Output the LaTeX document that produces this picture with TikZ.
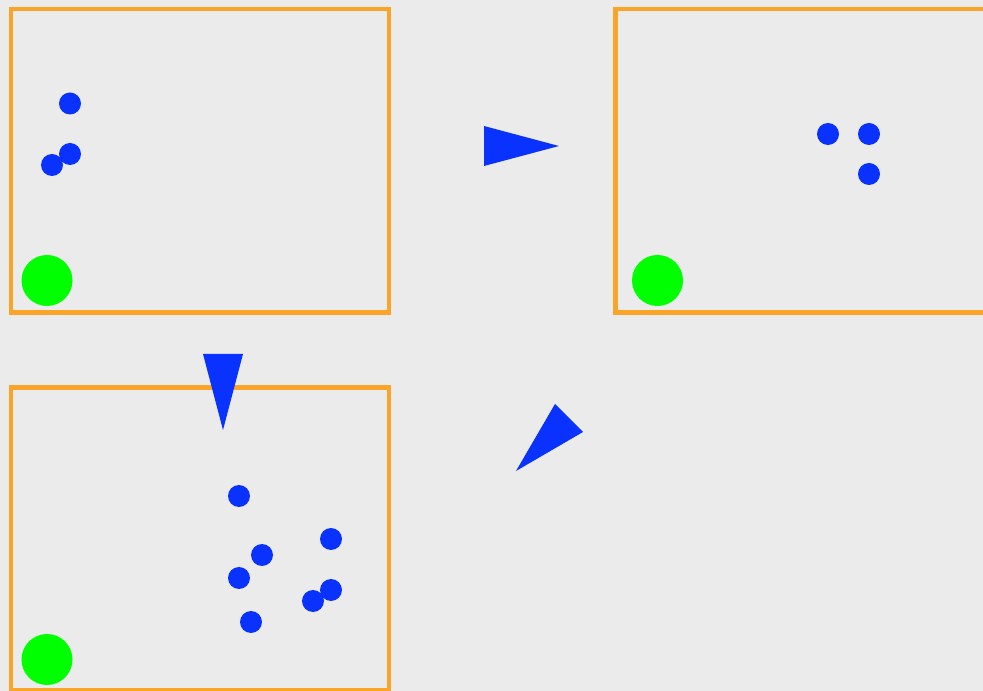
\documentclass[tikz,border=0pt]{standalone}
\usepackage{xcolor}
\usepackage{tikz}
\definecolor{bgGray}{RGB}{235,235,235}
\definecolor{frameOrange}{RGB}{250,165,40}
\definecolor{dotBlue}{RGB}{10,50,255}
\definecolor{goalGreen}{RGB}{0,255,0}
\tikzset{
    panel/.style={draw=frameOrange, line width=3.2pt},
    dot/.style={fill=dotBlue},
    goal/.style={fill=goalGreen},
    pointer/.style={fill=dotBlue}
}

\begin{document}
\begin{tikzpicture}[x=0.75pt, y=-0.75pt]
% Background
\fill[bgGray] (0,0) rectangle (983,691);
\useasboundingbox (0,0) rectangle (983,691);
\clip (0,0) rectangle (983,691);

% Panels
\draw[panel] (11,9) rectangle (389,312.5);
\draw[panel] (615.5,9) rectangle (993.5,312.5);
\draw[panel] (11,387.5) rectangle (389,690.5);

% Goals
\fill[goal] (47,280.5) circle (25.5);
\fill[goal] (657.5,280.5) circle (25.5);
\fill[goal] (47,659.5) circle (25.5);

% Dots
\foreach \px/\py in {70/103.5, 70/154, 52/165,
                     828/134, 869/134, 869/174,
                     239/496, 262/555, 239/578, 331/539, 331/590, 313/601, 251/622}
    \fill[dot] (\px,\py) circle (11);

% Pointers
\fill[pointer] (484,126) -- (484,166) -- (559,146) -- cycle;
\fill[pointer] (203,354) -- (243,354) -- (223,430) -- cycle;
\fill[pointer] (555,404) -- (583,432) -- (516,471) -- cycle;

\end{tikzpicture}
\end{document}
